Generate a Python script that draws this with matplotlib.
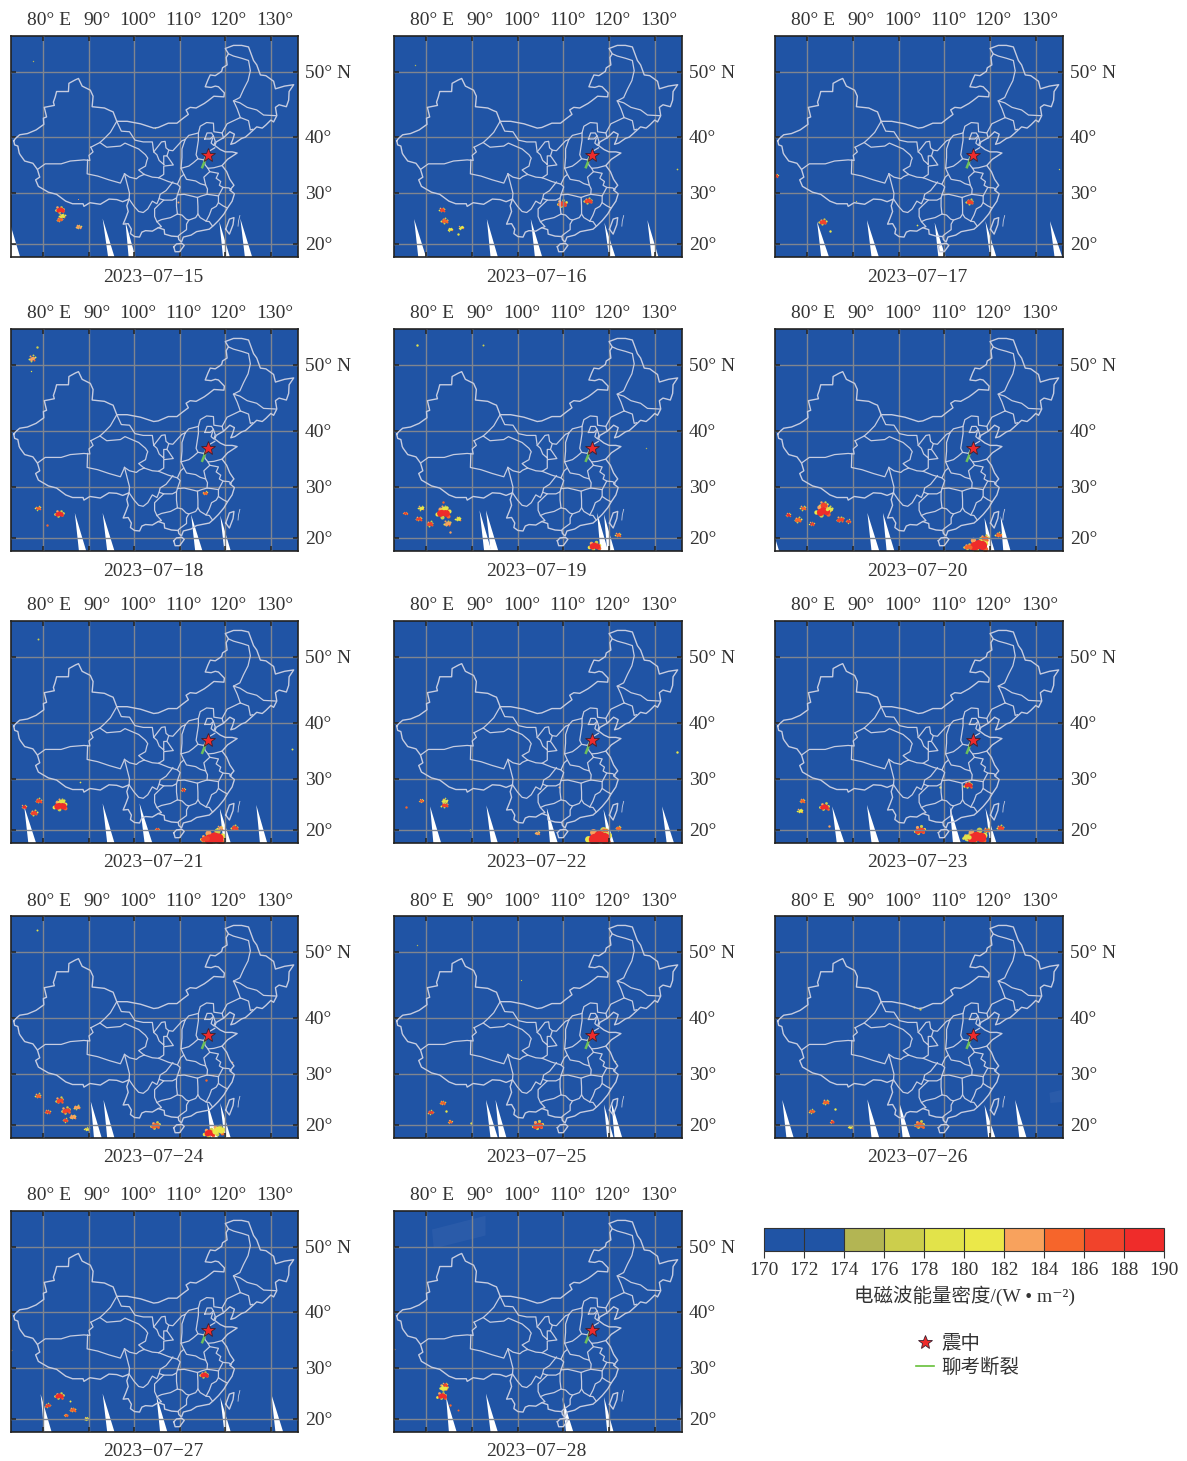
import numpy as np
import matplotlib
matplotlib.use('Agg')
import matplotlib.pyplot as plt
from matplotlib.colors import ListedColormap, BoundaryNorm
from matplotlib.cm import ScalarMappable
from matplotlib.lines import Line2D

plt.rcParams['font.family'] = ['Liberation Serif', 'Noto Sans CJK SC', 'DejaVu Sans']

W, H = 1187, 1461
TEXT = '#333333'
SEA = '#2054a5'
GRID = '#80858f'
BORDER = '#c6cce0'

# panel frames in pixels
COL_X = [(11, 298), (394, 682), (775, 1063)]
ROW_Y = [(36, 257), (329, 551), (621, 843), (916, 1138), (1211, 1432)]

DATES = ['2023-07-15', '2023-07-16', '2023-07-17', '2023-07-18', '2023-07-19',
         '2023-07-20', '2023-07-21', '2023-07-22', '2023-07-23', '2023-07-24',
         '2023-07-25', '2023-07-26', '2023-07-27', '2023-07-28']

LONS = [80, 90, 100, 110, 120, 130]
LON_LABELS = ['80° E', '90°', '100°', '110°', '120°', '130°']
LON_NUDGE = [6, 8, 4, 4, 3, 4]
LATS = [50, 40, 30, 20]
LAT_LABELS = ['50° N', '40°', '30°', '20°']

# colour bar
CBAR_TICKS = [170, 172, 174, 176, 178, 180, 182, 184, 186, 188, 190]
CBAR_COLORS = ['#2054a5', '#2054a5', '#b3b553', '#ccce4c', '#e2e34a',
               '#ebe849', '#f8a25d', '#f6652b', '#f1432b', '#ef2c2a']

EPICENTER = (116.2, 37.0)
FAULT_LON = [115.85, 115.45, 114.95]
FAULT_LAT = [36.6, 35.8, 34.8]

# China outline, lon/lat
OUTLINE = [(73.6, 39.4), (74.0, 39.8), (74.9, 40.4), (76.6, 40.6), (78.5, 41.2), (80.2, 42.1), (80.1, 43.1),
           (80.8, 43.3), (80.3, 44.8), (82.5, 45.1), (82.3, 45.6), (82.7, 46.4), (83.0, 47.2), (85.6, 47.2),
           (85.7, 48.4), (87.1, 48.9), (87.8, 49.1), (88.6, 48.0), (90.4, 47.4), (91.0, 46.5),
           (90.8, 44.9), (93.5, 44.7), (94.7, 44.3), (95.4, 44.1), (96.2, 42.6), (98.5, 42.6), (101.4, 42.2), (104.3, 41.5),
           (105.3, 41.6), (107.5, 42.3), (109.4, 42.3), (110.6, 43.0), (111.9, 43.7), (111.4, 44.4), (112.3, 44.8),
           (113.6, 44.7), (115.4, 45.4), (116.2, 45.8), (117.5, 46.5), (119.7, 46.4), (119.8, 47.0), (118.5, 47.9),
           (117.8, 48.0), (116.9, 47.8), (115.6, 47.9), (116.2, 48.9), (116.7, 49.6), (117.8, 49.5), (119.2, 50.1),
           (119.4, 50.6), (120.4, 51.0), (120.2, 52.0), (120.7, 52.5), (120.0, 53.2), (121.8, 53.6), (123.6, 53.6),
           (125.1, 53.4), (126.2, 51.6), (126.9, 51.0), (127.7, 49.6), (128.9, 49.5), (130.6, 48.7),
           (131.0, 47.6), (133.0, 48.0), (135.0, 48.2), (134.0, 47.2), (133.9, 45.9), (133.4, 44.9), (131.8, 45.2),
           (131.0, 44.8), (131.3, 43.5), (130.6, 42.5), (130.0, 42.8), (128.9, 42.0), (128.1, 41.5),
           (126.9, 41.7), (125.3, 40.6), (124.4, 40.0), (123.6, 39.8), (122.1, 39.0), (121.2, 38.8),
           (121.6, 39.5), (122.0, 40.5), (121.0, 40.9), (119.6, 39.9), (118.0, 39.2), (117.7, 38.6),
           (118.9, 37.9), (120.0, 37.5), (121.5, 37.5), (122.6, 37.3), (120.5, 36.2), (119.3, 35.1),
           (120.3, 34.0), (121.0, 32.6), (121.9, 31.5), (121.0, 30.6), (122.0, 29.9), (121.5, 28.5),
           (120.5, 27.2), (119.7, 26.0), (118.5, 24.7), (117.5, 23.8), (116.5, 23.0), (114.8, 22.7),
           (113.7, 22.5), (112.5, 21.8), (110.8, 21.4), (110.4, 20.4), (109.8, 20.9), (109.7, 21.5),
           (108.2, 21.6), (106.7, 22.0), (106.6, 22.9), (105.3, 23.3), (104.0, 22.6), (102.5, 22.7),
           (101.7, 22.4), (101.2, 21.4), (100.1, 21.5), (99.2, 22.1), (99.4, 23.0), (98.7, 24.1),
           (97.6, 24.0), (98.2, 25.3), (98.7, 26.5), (98.4, 27.6), (98.9, 28.9), (97.5, 28.4),
           (96.2, 28.8), (94.5, 28.9), (92.6, 27.9), (90.3, 28.2), (89.0, 27.5), (88.8, 28.0),
           (86.5, 28.0), (85.0, 28.5), (83.0, 29.8), (81.2, 30.2), (79.0, 31.3), (78.4, 32.5),
           (79.3, 33.0), (78.8, 34.4), (77.8, 35.5), (76.0, 35.9), (75.0, 37.0), (74.8, 37.3),
           (74.5, 38.5), (73.8, 38.7), (73.6, 39.4)]

HAINAN = [(108.7, 19.4), (109.3, 20.0), (110.5, 20.1), (111.0, 19.7), (110.0, 18.4), (109.0, 18.4), (108.7, 19.4)]
TAIWAN = [(120.1, 23.0), (120.9, 25.0), (121.9, 25.3), (121.7, 23.9), (120.9, 22.0), (120.1, 23.0)]
SEA_DASH = [(123.2, 25.7), (122.9, 24.6), (122.8, 23.6)]

# province borders, lon/lat
PROVINCES = [
    [(78.8, 34.4), (80.5, 35.4), (84.0, 35.4), (86.0, 35.9), (89.0, 36.1), (90.3, 36.0), (90.1, 36.9), (91.0, 37.5), (90.5, 38.3)],
    [(90.5, 38.3), (92.5, 39.1), (93.5, 39.8), (94.8, 40.8), (96.2, 42.6)],
    [(89.8, 36.1), (89.7, 33.6), (92.0, 33.2), (94.5, 32.5), (97.0, 31.9), (97.9, 33.6)],
    [(97.9, 33.6), (99.0, 33.0), (100.5, 32.7), (101.1, 33.1), (102.2, 33.5)],
    [(102.2, 33.5), (101.0, 34.3), (102.5, 35.0), (102.8, 36.0), (103.0, 36.4), (102.5, 37.0), (101.0, 38.0), (99.5, 38.5), (98.0, 39.0), (97.0, 38.5), (94.0, 38.3), (92.5, 39.1)],
    [(97.9, 33.6), (98.4, 32.0), (99.0, 30.0), (98.9, 28.9)],
    [(102.2, 33.5), (104.0, 33.0), (105.4, 32.9)],
    [(105.4, 32.9), (106.5, 33.5), (106.5, 35.0), (108.6, 35.2), (107.5, 36.5), (107.2, 36.8)],
    [(106.5, 35.3), (105.5, 36.0), (105.0, 37.0), (104.3, 37.5), (105.0, 38.2), (106.0, 39.2), (106.8, 39.3), (107.0, 38.2), (107.6, 37.8), (107.2, 36.8), (106.5, 36.8), (106.5, 35.3)],
    [(96.2, 42.6), (97.2, 41.0), (99.0, 40.9), (100.2, 39.5), (102.0, 39.2), (104.0, 39.2), (104.3, 37.5)],
    [(107.6, 37.8), (108.5, 37.7), (110.5, 39.4), (111.2, 39.6)],
    [(111.2, 39.6), (112.0, 40.3), (114.1, 40.7), (114.5, 41.8), (115.9, 42.4), (117.4, 42.3), (117.5, 40.9), (119.3, 40.7), (120.4, 42.2), (123.3, 43.2)],
    [(123.3, 43.2), (122.6, 44.6), (121.8, 45.8), (123.2, 46.3), (124.0, 47.5), (125.0, 48.8), (125.5, 50.2), (125.1, 51.6), (123.6, 51.9), (121.8, 52.2), (120.7, 52.5)],
    [(121.8, 45.8), (123.2, 45.5), (124.8, 44.8), (126.9, 44.4), (128.4, 43.6), (131.0, 43.5)],
    [(123.3, 43.2), (125.1, 42.7), (125.5, 41.2), (126.0, 41.3)],
    [(119.3, 40.7), (119.6, 39.9)],
    [(114.1, 40.7), (114.1, 39.5), (113.8, 38.0), (113.6, 37.0), (114.0, 36.3), (115.3, 36.1), (116.2, 37.5), (117.7, 38.2)],
    [(115.5, 39.7), (116.0, 40.7), (117.0, 40.7), (117.4, 40.2), (116.7, 39.7), (115.5, 39.7)],
    [(117.4, 40.2), (117.8, 39.3), (117.5, 38.6), (116.9, 39.0), (117.2, 39.8)],
    [(111.2, 39.6), (110.5, 38.0), (110.5, 36.5), (110.3, 34.6), (112.0, 35.0), (113.0, 35.6), (114.0, 36.3)],
    [(110.3, 34.6), (110.9, 33.5), (111.5, 32.6), (113.5, 32.3), (114.5, 31.8), (115.7, 31.5), (115.3, 33.0), (116.6, 34.0), (116.2, 34.6)],
    [(115.3, 36.1), (115.6, 35.2), (116.2, 34.6), (117.5, 34.7), (119.3, 35.1)],
    [(116.6, 34.0), (118.5, 33.7), (118.0, 32.8), (119.0, 32.2), (118.7, 31.5), (119.5, 31.1), (120.8, 31.0), (121.3, 30.7)],
    [(119.5, 31.1), (118.5, 29.5), (117.0, 29.7), (116.0, 29.8), (116.1, 30.8), (115.7, 31.5)],
    [(116.0, 29.8), (114.8, 29.5), (113.9, 29.2), (112.5, 29.5), (111.0, 29.8), (109.5, 29.7), (110.1, 31.2), (109.5, 31.7)],
    [(110.9, 33.5), (110.2, 33.0), (109.5, 31.7), (107.5, 32.2), (105.4, 32.9)],
    [(108.5, 32.1), (107.0, 30.5), (105.7, 29.8), (105.5, 29.0), (106.5, 28.7), (108.4, 28.7), (109.3, 29.1), (109.5, 29.7)],
    [(109.3, 29.1), (109.3, 27.5), (109.5, 26.0), (110.5, 25.8), (111.4, 25.0), (112.0, 24.8), (113.5, 25.3), (114.0, 26.0), (114.0, 27.5), (113.9, 29.2)],
    [(114.0, 26.0), (114.5, 25.3), (115.8, 24.6), (116.5, 25.8), (117.0, 27.0), (118.0, 27.5), (118.5, 28.2), (118.5, 29.5)],
    [(118.5, 28.2), (119.5, 27.6), (120.4, 27.2)],
    [(115.8, 24.6), (116.5, 24.5), (117.2, 23.6)],
    [(112.0, 24.8), (111.5, 24.0), (111.5, 22.9), (110.0, 21.9), (109.6, 21.5)],
    [(109.5, 26.0), (108.0, 25.3), (106.0, 24.9), (105.0, 24.5), (106.0, 23.5), (105.3, 23.3)],
    [(105.0, 24.5), (104.5, 25.5), (104.5, 27.0), (105.3, 27.7), (106.5, 28.7)],
    [(98.9, 28.9), (100.0, 27.5), (101.0, 26.5), (102.0, 26.3), (103.0, 27.0), (104.0, 28.5), (105.0, 28.0), (105.5, 29.0)],
]

# satellite gaps: tip lon, tip lat, lon left and right at the bottom edge
GAPS = {
    '2023-07-15': [(73.0, 23.5, 73.0, 75.0), (93.1, 25.1, 94.3, 95.7), (98.1, 24.5, 98.8, 100.3), (118.7, 24.5, 119.5, 121.0), (123.3, 25.1, 124.3, 125.9)],
    '2023-07-16': [(77.4, 25.0, 78.3, 80.0), (93.3, 25.0, 94.1, 95.7), (102.9, 25.0, 103.8, 105.4), (119.0, 24.3, 120.0, 121.4), (128.4, 24.8, 129.3, 130.8)],
    '2023-07-17': [(82.2, 24.5, 83.1, 84.8), (93.1, 24.8, 94.1, 95.7), (107.9, 24.3, 108.7, 110.3), (119.0, 24.6, 120.0, 121.4), (133.1, 24.6, 134.1, 135.8)],
    '2023-07-18': [(87.0, 25.0, 87.9, 89.5), (93.1, 25.0, 94.1, 95.7), (112.5, 24.7, 113.4, 115.0), (118.9, 24.5, 119.8, 121.2)],
    '2023-07-19': [(91.7, 25.5, 92.7, 94.3), (93.1, 25.5, 94.1, 95.8), (117.4, 25.0, 118.1, 119.8), (118.9, 24.7, 119.6, 121.2)],
    '2023-07-20': [(73.2, 19.4, 73.0, 73.9), (93.2, 25.0, 94.1, 95.8), (96.6, 25.0, 97.4, 99.1), (118.8, 24.0, 119.4, 121.0), (122.3, 24.4, 122.9, 124.5)],
    '2023-07-21': [(75.9, 24.7, 76.8, 78.5), (93.1, 25.3, 94.1, 95.7), (101.2, 25.3, 102.3, 104.0), (118.8, 24.3, 119.6, 121.2), (126.8, 25.0, 127.6, 129.2)],
    '2023-07-22': [(80.9, 24.7, 81.6, 83.3), (93.2, 24.9, 94.2, 95.7), (106.4, 24.4, 107.1, 108.8), (118.8, 24.1, 119.7, 121.1), (131.6, 24.7, 132.6, 134.2)],
    '2023-07-23': [(85.5, 24.7, 86.5, 88.2), (93.1, 25.0, 94.1, 95.8), (111.2, 24.7, 111.9, 113.6), (119.0, 24.4, 120.0, 121.4)],
    '2023-07-24': [(90.5, 24.7, 91.2, 92.9), (93.3, 25.0, 94.1, 95.7), (116.0, 24.7, 116.8, 118.4), (118.9, 24.4, 119.8, 121.2)],
    '2023-07-25': [(93.1, 25.0, 94.1, 95.7), (95.2, 25.0, 96.0, 97.6), (118.9, 24.1, 119.6, 121.0), (120.5, 24.7, 121.2, 122.9)],
    '2023-07-26': [(74.6, 25.0, 75.5, 77.1), (93.2, 25.1, 94.1, 95.8), (100.1, 24.7, 100.9, 102.6), (118.8, 24.0, 119.6, 121.2), (125.5, 25.0, 126.4, 128.0)],
    '2023-07-27': [(79.5, 25.0, 80.3, 81.9), (93.1, 25.1, 94.1, 95.7), (104.9, 24.7, 105.7, 107.3), (118.9, 24.4, 119.8, 121.2), (130.1, 25.0, 131.0, 132.7)],
    '2023-07-28': [(84.4, 24.4, 85.0, 86.7), (93.1, 25.1, 94.1, 95.7), (109.8, 24.4, 110.6, 112.2), (118.9, 24.4, 119.6, 121.0), (135.6, 23.5, 135.7, 136.0)],
}

# radiation patches: lon, lat, value, size
BLOBS = {
    '2023-07-15': [(83.7, 26.9, 190, 16), (84.2, 25.7, 180, 8), (83.6, 25.0, 186, 7), (87.8, 23.5, 184, 6), (109.6, 28.3, 183, 2), (77.8, 51.5, 176, 1), (104.6, 41.5, 178, 1), (87.8, 29.0, 183, 0.6)],
    '2023-07-16': [(83.5, 26.9, 188, 7), (84.0, 24.7, 186, 9), (85.2, 23.0, 182, 5), (87.6, 23.4, 182, 5), (86.9, 22.0, 180, 3), (109.7, 28.1, 188, 18), (115.4, 28.6, 188, 12), (134.8, 34.5, 178, 1.5), (77.6, 51.0, 176, 1)],
    '2023-07-17': [(83.4, 24.5, 188, 12), (85.0, 22.7, 182, 3), (73.2, 33.3, 188, 4), (115.5, 28.4, 188, 11), (90.8, 28.5, 178, 0.8), (104.0, 23.9, 182, 1.5), (135.0, 34.5, 178, 1)],
    '2023-07-18': [(77.6, 51.0, 184, 9), (78.6, 52.5, 178, 3), (78.9, 26.0, 186, 6), (83.6, 24.9, 190, 16), (81.0, 22.7, 186, 3), (115.5, 28.9, 186, 5), (77.3, 49.2, 180, 1)],
    '2023-07-19': [(83.8, 25.1, 190, 40), (84.0, 26.0, 180, 10), (83.8, 27.2, 186, 3), (78.9, 26.0, 182, 7), (75.5, 25.0, 188, 4), (78.4, 23.9, 188, 7), (80.8, 22.9, 188, 9), (84.6, 23.0, 184, 10), (87.0, 23.9, 180, 7), (85.3, 21.2, 184, 3), (116.8, 18.4, 190, 30), (121.9, 20.7, 186, 6), (78.1, 52.8, 180, 3), (92.4, 52.8, 178, 2), (128.0, 37.0, 176, 1)],
    '2023-07-20': [(83.5, 25.4, 190, 45), (83.6, 26.7, 188, 14), (84.8, 25.9, 180, 10), (79.1, 26.0, 186, 7), (75.8, 24.7, 190, 5), (78.0, 23.7, 186, 9), (81.0, 22.9, 188, 5), (87.2, 23.8, 188, 10), (89.0, 23.4, 188, 5), (117.4, 18.6, 190, 70), (115.2, 18.2, 186, 14), (118.8, 20.0, 186, 14), (121.8, 20.7, 186, 8)],
    '2023-07-21': [(83.8, 24.9, 190, 35), (84.0, 25.8, 180, 10), (79.0, 25.9, 188, 8), (78.0, 23.5, 188, 10), (75.8, 24.7, 190, 5), (88.2, 29.5, 180, 1.5), (110.7, 28.0, 188, 4), (105.0, 20.2, 188, 4), (117.5, 18.4, 190, 90), (115.6, 18.3, 188, 20), (122.0, 20.5, 188, 10), (118.8, 20.5, 184, 6), (134.6, 35.5, 180, 2), (79.0, 52.5, 178, 2)],
    '2023-07-22': [(84.0, 25.0, 188, 9), (84.0, 25.9, 180, 7), (79.0, 25.9, 186, 4), (75.7, 24.6, 186, 3), (117.8, 18.5, 190, 110), (122.0, 20.4, 186, 7), (119.0, 20.0, 186, 8), (104.3, 19.4, 184, 5), (89.7, 20.0, 182, 2), (109.0, 28.5, 184, 2), (134.8, 35.0, 182, 3), (99.2, 17.6, 188, 2)],
    '2023-07-23': [(83.8, 24.7, 190, 18), (78.9, 25.9, 186, 6), (78.4, 23.9, 182, 6), (115.2, 28.9, 190, 14), (109.1, 28.4, 182, 3), (104.6, 20.0, 188, 24), (117.0, 18.7, 190, 80), (115.0, 18.6, 180, 16), (122.2, 20.5, 188, 9), (119.3, 20.0, 186, 8), (84.7, 20.7, 184, 3)],
    '2023-07-24': [(78.9, 25.9, 186, 7), (83.6, 25.0, 188, 13), (85.0, 23.0, 188, 15), (87.4, 23.6, 184, 8), (81.0, 22.7, 188, 6), (86.5, 21.7, 184, 8), (84.9, 21.0, 188, 6), (78.6, 53.0, 180, 2), (104.6, 20.0, 186, 18), (89.6, 19.2, 182, 5), (116.5, 18.4, 190, 30), (118.4, 19.0, 182, 35), (115.8, 28.9, 186, 3), (117.4, 29.9, 186, 1.5), (121.4, 32.2, 184, 1.5)],
    '2023-07-25': [(83.6, 24.5, 186, 6), (81.0, 22.6, 188, 6), (84.4, 22.9, 182, 3), (85.2, 20.7, 186, 4), (89.8, 20.4, 182, 3), (104.4, 20.0, 188, 24), (121.2, 32.4, 180, 1), (100.8, 46.0, 178, 0.8), (78.0, 51.0, 176, 1)],
    '2023-07-26': [(84.1, 24.6, 186, 8), (81.0, 22.8, 186, 6), (85.4, 20.7, 188, 4), (86.1, 23.2, 182, 3), (89.4, 19.6, 182, 4), (104.5, 20.1, 186, 20), (103.4, 41.8, 180, 2), (104.6, 41.5, 178, 3)],
    '2023-07-27': [(83.6, 24.7, 190, 16), (81.0, 22.8, 188, 6), (86.5, 21.9, 186, 7), (85.0, 20.8, 186, 4), (89.5, 20.1, 182, 4), (115.3, 28.8, 190, 14), (73.1, 33.3, 184, 1.5), (86.0, 23.6, 182, 2)],
    '2023-07-28': [(83.8, 26.3, 182, 14), (83.4, 24.7, 190, 18), (84.1, 26.9, 188, 6), (85.3, 22.9, 186, 3), (87.0, 21.8, 186, 2), (73.1, 33.5, 184, 1.5)],
}

# very faint patches: lon and lat corners
FAINT = {
    '2023-07-26': ([133.0, 135.9, 135.9, 133.2], [26.4, 27.0, 24.6, 24.4]),
    '2023-07-28': ([81.3, 93.0, 93.0, 81.7], [52.4, 54.2, 51.6, 49.8]),
}

# speckle around a patch: angle in degrees, share of its radius, colour value
SPECKLE = [(15, 1.0, 181), (70, 1.1, 177), (130, 1.0, 183), (195, 1.15, 180), (255, 1.0, 177), (320, 1.1, 184)]


def merc(lat):
    lat = np.clip(lat, -85, 85)
    return np.degrees(np.log(np.tan(np.radians(45 + lat / 2))))


def merc_inv(y):
    return 2 * np.degrees(np.arctan(np.exp(np.radians(y)))) - 90


def draw_line(ax, pts, lw=1.0):
    arr = np.array(pts)
    ax.plot(arr[:, 0], arr[:, 1], color=BORDER, lw=lw, zorder=4, solid_joinstyle='round')


def draw_blob(ax, lon, lat, value, size):
    # radius in degrees, 4.56 px per degree of longitude, 1.39 px per point
    r = np.sqrt(size) / 2 * 1.39 / 4.56
    color = cmap(norm(value - 0.01))
    if size >= 4:
        for ang, share, val in SPECKLE:
            sx = lon + 1.3 * share * r * np.cos(np.radians(ang))
            sy = lat + 0.9 * share * r * np.sin(np.radians(ang))
            ax.scatter(sx, sy, s=size * 0.22, color=cmap(norm(val)), lw=0, zorder=2)
        # wider than tall, like the patches in the scenes
        ax.scatter([lon - 0.7 * r, lon, lon + 0.7 * r], [lat - 0.2 * r, lat + 0.1 * r, lat - 0.1 * r],
                   s=size * 0.6, color=color, lw=0, zorder=2.5)
    else:
        ax.scatter(lon, lat, s=size, color=color, lw=0, zorder=2.5)


def draw_panel(ax, date):
    ax.set_facecolor(SEA)
    ax.set_yscale('function', functions=(merc, merc_inv))
    ax.set_xlim(73.0, 135.95)
    ax.set_ylim(17.3, 54.8)

    if date in FAINT:
        ax.fill(FAINT[date][0], FAINT[date][1], color='#4a70b8', alpha=0.25, lw=0, zorder=1)

    bottom = ax.get_ylim()[0]
    for tip_lon, tip_lat, left, right in GAPS[date]:
        ax.fill([tip_lon, right, left], [tip_lat, bottom, bottom], color='white', lw=0, zorder=1)

    for lon, lat, value, size in BLOBS[date]:
        draw_blob(ax, lon, lat, value, size)

    ax.set_xticks(LONS)
    ax.set_yticks(LATS)
    ax.minorticks_off()
    ax.set_xticklabels([])
    ax.set_yticklabels([])
    ax.tick_params(which='both', direction='in', top=True, right=True, length=3.5, width=1.1, color='#222222')
    ax.grid(True, color=GRID, lw=1.0, zorder=3)
    ax.set_axisbelow(False)

    draw_line(ax, OUTLINE)
    draw_line(ax, HAINAN)
    draw_line(ax, TAIWAN)
    draw_line(ax, SEA_DASH, lw=0.6)
    for pts in PROVINCES:
        draw_line(ax, pts, lw=0.9)

    ax.plot(FAULT_LON, FAULT_LAT, color='#6cc05a', lw=1.8, zorder=5)
    ax.plot(EPICENTER[0], EPICENTER[1], marker='*', ms=10.5, mfc='#ee2b2b', mec='#3a2030', mew=0.6, zorder=6)

    for sp in ax.spines.values():
        sp.set_linewidth(1.2)
        sp.set_color('#222222')

    for lon, label, nudge in zip(LONS, LON_LABELS, LON_NUDGE):
        ax.annotate(label, (lon, 1), xycoords=ax.get_xaxis_transform(), xytext=(nudge, 15),
                    textcoords='offset pixels', ha='center', va='center', fontsize=14, color=TEXT)
    for lat, label in zip(LATS, LAT_LABELS):
        ax.annotate(label, (1, lat), xycoords=ax.get_yaxis_transform(), xytext=(7, -1.5),
                    textcoords='offset pixels', ha='left', va='center', fontsize=14, color=TEXT)
    ax.annotate(date.replace('-', '−'), (0.495, 0), xycoords='axes fraction', xytext=(0, -20),
                textcoords='offset pixels', ha='center', va='center', fontsize=14, color=TEXT)


def px_axes(fig, x0, x1, y0, y1):
    return fig.add_axes([x0 / W, 1 - y1 / H, (x1 - x0) / W, (y1 - y0) / H])


cmap = ListedColormap(CBAR_COLORS)
norm = BoundaryNorm(CBAR_TICKS, cmap.N)

fig = plt.figure(figsize=(W / 100, H / 100), dpi=100)

k = 0
for y0, y1 in ROW_Y:
    for x0, x1 in COL_X:
        if k >= len(DATES):
            break
        ax = px_axes(fig, x0, x1, y0, y1)
        draw_panel(ax, DATES[k])
        k += 1

# colour bar
cax = px_axes(fig, 764, 1164, 1228, 1251)
cb = fig.colorbar(ScalarMappable(norm=norm, cmap=cmap), cax=cax, orientation='horizontal',
                  ticks=CBAR_TICKS, drawedges=True)
cb.ax.tick_params(length=5, width=0.8, color='#333333', labelsize=14, labelcolor=TEXT, pad=3)
cb.outline.set_edgecolor('#333333')
cb.outline.set_linewidth(0.8)
cb.dividers.set_color('#333333')
cb.dividers.set_linewidth(0.8)
fig.text(964 / W, 1 - 1296 / H, '电磁波能量密度/(W • m⁻²)', ha='center', va='center', fontsize=14, color=TEXT)

# legend
handles = [Line2D([], [], marker='*', ls='', ms=10, mfc='#ee2b2b', mec='#3a2030', mew=0.6),
           Line2D([], [], color='#66c03a', lw=1.2)]
fig.legend(handles, ['震中', '聊考断裂'], loc='upper left', bbox_to_anchor=(916 / W, 1 - 1335 / H),
           frameon=False, fontsize=14, labelcolor=TEXT, handlelength=0.9, handletextpad=0.4,
           labelspacing=0.25, borderpad=0, borderaxespad=0)

fig.savefig('out.png', dpi=100)
